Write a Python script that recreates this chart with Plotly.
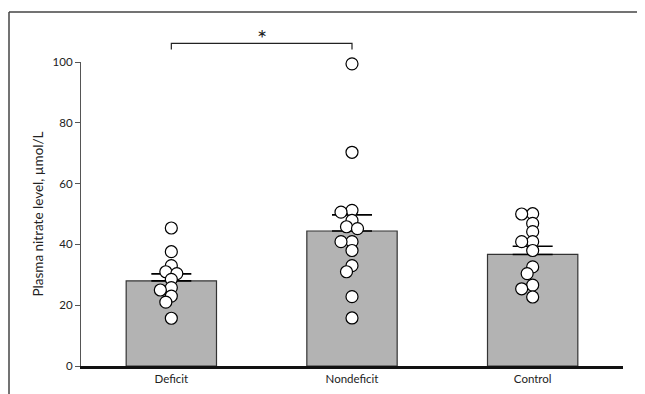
import plotly.graph_objects as go

# ---- data ----
categories = ["Deficit", "Nondeficit", "Control"]
bar_means = [28.0, 44.4, 36.7]
bar_sem = [2.3, 5.3, 2.7]
deficit_pts = [45.4, 37.6, 33.0, 31.0, 30.4, 28.5, 25.8, 25.0, 23.0, 21.0, 15.7]
nondeficit_pts = [99.4, 70.3, 51.2, 50.6, 47.9, 45.8, 45.2, 40.9, 40.9, 38.0, 33.0, 31.0, 22.8, 15.8]
control_pts = [50.1, 50.0, 46.9, 44.2, 40.9, 40.9, 38.0, 32.6, 30.4, 26.6, 25.4, 22.7]
y_ticks = [0, 20, 40, 60, 80, 100]
groups = [deficit_pts, nondeficit_pts, control_pts]

# ---- layout geometry (page pixels; the html body adds an 8px margin) ----
OFF = 8
W, H = 645 - OFF, 394 - OFF
L = 81 - OFF
R = W - (623 - OFF)
T = 62 - OFF
B = H - (366 - OFF)
plot_w = W - L - R
plot_h = H - T - B
px_per_cat = plot_w / 3.0
px_per_unit = plot_h / 100.0


def swarm(values, min_dist=7.0, step=5.5):
    """Deterministic beeswarm offsets (in category units)."""
    placed = []
    offs = []
    for v in values:
        vy = v * px_per_unit
        cands = [0.0]
        for k in range(1, 6):
            cands += [-step * k, step * k]
        for c in cands:
            if all(((px - c) ** 2 + (py - vy) ** 2) ** 0.5 >= min_dist for (px, py) in placed):
                break
        placed.append((c, vy))
        offs.append(c / px_per_cat)
    return offs


fig = go.Figure()
fig.add_trace(go.Bar(
    x=[0, 1, 2], y=bar_means, width=0.5,
    marker=dict(color="#b3b3b3", line=dict(color="#333333", width=1.2)),
    error_y=dict(type="data", array=bar_sem, arrayminus=[0, 0, 0], symmetric=False,
                 color="#000000", thickness=1.6, width=20),
    showlegend=False, hoverinfo="skip",
))

for i, pts in enumerate(groups):
    offs = swarm(pts)
    fig.add_trace(go.Scatter(
        x=[i + o for o in offs], y=pts, mode="markers",
        marker=dict(size=12, color="white", line=dict(color="black", width=1.2)),
        cliponaxis=False, showlegend=False,
    ))


def xp(page_x):
    return (page_x - OFF - L) / plot_w


def yp(page_y):
    return (H - B - (page_y - OFF)) / plot_h


shapes = []
# frame lines (top and left)
shapes.append(dict(type="line", xref="paper", yref="paper", x0=xp(9), x1=xp(650), y0=yp(12), y1=yp(12),
                   line=dict(color="#444444", width=1.5)))
shapes.append(dict(type="line", xref="paper", yref="paper", x0=xp(9), x1=xp(9), y0=yp(12), y1=yp(400),
                   line=dict(color="#444444", width=1.5)))
# significance bracket
bx0 = (0.5 * px_per_cat) / plot_w
bx1 = (1.5 * px_per_cat) / plot_w
shapes.append(dict(type="path", xref="paper", yref="paper",
                   path=f"M {bx0},{yp(49.5)} L {bx0},{yp(43.3)} L {bx1},{yp(43.3)} L {bx1},{yp(49.5)}",
                   line=dict(color="#222222", width=1.2)))

fig.update_layout(
    width=W, height=H,
    margin=dict(l=L, r=R, t=T, b=B),
    paper_bgcolor="white", plot_bgcolor="white",
    font=dict(family="Lato, Open Sans, sans-serif", color="#222222"),
    shapes=shapes,
    annotations=[dict(text="*", xref="paper", yref="paper", x=(bx0 + bx1) / 2, y=yp(38),
                      showarrow=False, font=dict(size=24, color="#222222"), yanchor="middle")],
    xaxis=dict(range=[-0.5, 2.5], tickvals=[0, 1, 2], ticktext=categories, automargin=False,
               showline=True, linecolor="#111111", linewidth=2.5, ticks="",
               showgrid=False, zeroline=False, tickfont=dict(size=11.5), fixedrange=True),
    yaxis=dict(range=[0, 100], tickvals=y_ticks, showline=True, linecolor="#555555", linewidth=1.2,
               automargin=False,
               ticks="outside", ticklen=5, tickcolor="#555555", tickwidth=1.2,
               showgrid=False, zeroline=False, tickfont=dict(size=11.5),
               title=dict(text="Plasma nitrate level, µmol/L", font=dict(size=13.5), standoff=5)),
)

fig.write_html("out.html")
